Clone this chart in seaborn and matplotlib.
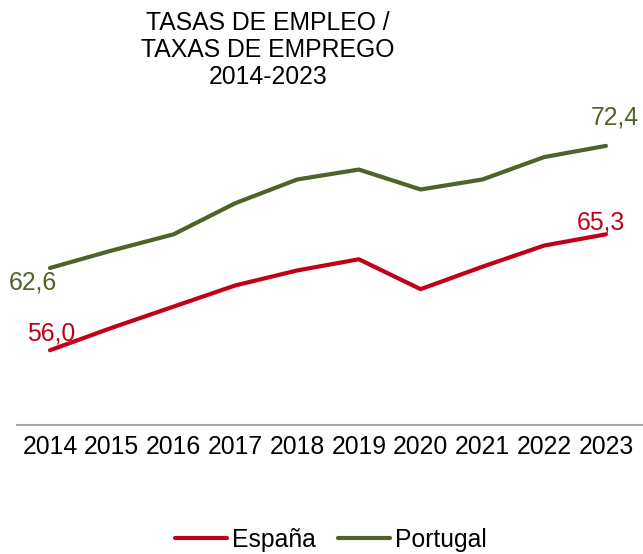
import pandas as pd
import seaborn as sns
import matplotlib.pyplot as plt

# Employment rates 2014-2023
years = [2014, 2015, 2016, 2017, 2018, 2019, 2020, 2021, 2022, 2023]
espana = [56.0, 57.8, 59.5, 61.2, 62.4, 63.3, 60.9, 62.7, 64.4, 65.3]
portugal = [62.6, 64.0, 65.3, 67.8, 69.7, 70.5, 68.9, 69.7, 71.5, 72.4]
series_names = ["España", "Portugal"]
colors = {"España": "#C0001A", "Portugal": "#4F6228"}

df = pd.DataFrame({
    "year": [str(y) for y in years] * 2,
    "rate": espana + portugal,
    "country": [series_names[0]] * len(years) + [series_names[1]] * len(years),
})

sns.set_theme(style="white")
plt.rcParams["font.family"] = ["Liberation Sans", "DejaVu Sans"]
plt.rcParams["text.color"] = "black"

FS = 17.8

fig = plt.figure(figsize=(6.43, 5.54), dpi=100)
ax = fig.add_axes([17 / 643, 1 - 425 / 554, 1 - 17 / 643, (425 - 101) / 554])

sns.lineplot(data=df, x="year", y="rate", hue="country", palette=colors,
             linewidth=3, sort=False, ax=ax)
for line in ax.get_lines():
    line.set_solid_capstyle("round")

ax.set_xlim(-0.534, 9.6)
ax.set_ylim(50, 76)
ax.set_xlabel("")
ax.set_ylabel("")
ax.set_yticks([])
ax.tick_params(axis="x", length=0, pad=7, labelsize=FS, colors="black")
for side in ["top", "right", "left"]:
    ax.spines[side].set_visible(False)
ax.spines["bottom"].set_color("#A6A6A6")
ax.spines["bottom"].set_linewidth(1.5)

# first / last value labels
def fmt(v):
    return f"{v:.1f}".replace(".", ",")

ax.annotate(fmt(portugal[0]), (0, portugal[0]), xytext=(-17, -15), textcoords="offset pixels",
            ha="center", va="center", fontsize=FS, color=colors["Portugal"])
ax.annotate(fmt(espana[0]), (0, espana[0]), xytext=(1, 17), textcoords="offset pixels",
            ha="center", va="center", fontsize=FS, color=colors["España"])
ax.annotate(fmt(portugal[-1]), (9, portugal[-1]), xytext=(9, 28), textcoords="offset pixels",
            ha="center", va="center", fontsize=FS, color=colors["Portugal"])
ax.annotate(fmt(espana[-1]), (9, espana[-1]), xytext=(-5, 12), textcoords="offset pixels",
            ha="center", va="center", fontsize=FS, color=colors["España"])

fig.text(268 / 643, 1 - 50 / 554, "TASAS DE EMPLEO /\nTAXAS DE EMPREGO\n2014-2023",
         ha="center", va="center", fontsize=FS, linespacing=1.15, color="black")

handles, labels = ax.get_legend_handles_labels()
leg = ax.legend(handles, labels, loc="center", bbox_to_anchor=(331 / 643, 1 - 540 / 554),
                bbox_transform=fig.transFigure, ncol=2, frameon=False, fontsize=FS,
                handlelength=2.1, handletextpad=0.2, columnspacing=0.9)
for t in leg.get_texts():
    t.set_color("black")

fig.savefig("out.png", dpi=100)
